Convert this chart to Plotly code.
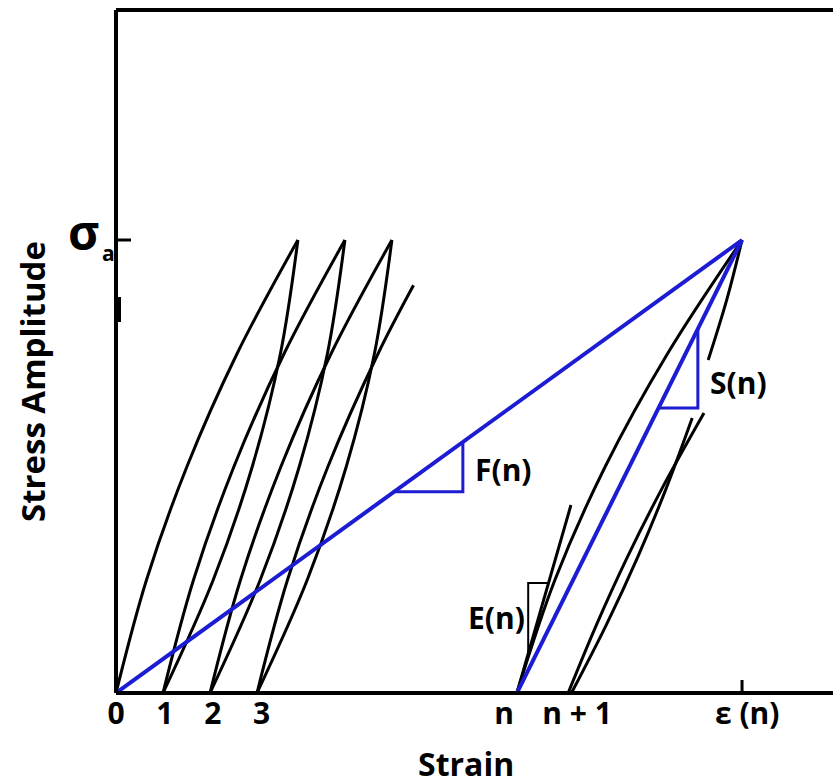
import plotly.graph_objects as go

# ---------------- data (strain in cycle-offset units, stress in units of sigma_a) -------------
# first three hysteresis cycles (loading branches) and the fourth partial one
load_y = [0.0, 0.25, 0.50, 0.75, 1.00]
load0_x = [0.00, 0.65, 1.51, 2.58, 3.87]
load1_x = [1.00, 1.65, 2.51, 3.58, 4.87]
load2_x = [2.00, 2.65, 3.51, 4.58, 5.87]
load3_x = [3.00, 3.65, 4.51, 5.58, 6.33]
load3_y = [0.0, 0.25, 0.50, 0.75, 0.90]

# unloading branches
unload_y = [1.00, 0.75, 0.50, 0.25, 0.0]
unload0_x = [3.87, 3.50, 2.90, 2.07, 1.00]
unload1_x = [4.87, 4.50, 3.90, 3.07, 2.00]
unload2_x = [5.87, 5.50, 4.90, 4.07, 3.00]

# cycle n
loadn_x = [8.53, 9.34, 10.41, 11.74, 13.32]
loadn_y = [0.0, 0.25, 0.50, 0.75, 1.00]
tangE_x = [8.53, 9.68]
tangE_y = [0.0, 0.415]
triE_x = [8.77, 8.77, 9.19]
triE_y = [0.088, 0.243, 0.243]
unloadn_top_x = [13.32, 13.00, 12.60]
unloadn_top_y = [1.00, 0.87, 0.735]
unloadn_bot_x = [12.26, 11.70, 11.10, 10.43, 9.69]
unloadn_bot_y = [0.607, 0.45, 0.30, 0.15, 0.0]
reload_x = [9.62, 10.22, 10.88, 11.61, 12.51]
reload_y = [0.0, 0.15, 0.30, 0.45, 0.618]

# blue secant lines and slope triangles
secF_x = [0.0, 13.32]
secF_y = [0.0, 1.0]
secS_x = [8.53, 13.32]
secS_y = [0.0, 1.0]
triF_x = [5.91, 7.38, 7.38]
triF_y = [0.444, 0.444, 0.554]
triS_x = [11.54, 12.38, 12.38]
triS_y = [0.629, 0.629, 0.804]

eps_n = 13.32
tick_pos = [0.0, 1.04, 2.06, 3.10, 8.26, 9.81, 13.43]
tick_text = ["0", "1", "2", "3", "n", "n + 1", "ε (n)"]

# ---------------- figure ----------------
BLACK = "#000000"
BLUE = "#1c1cd2"
W, H = 833, 784
ML, MR, MT, MB = 116, 0, 10, 91
PW, PH = W - ML - MR, H - MT - MB
PX_PER_X = 47.0
PX_PER_Y = 453.0
x_max = PW / PX_PER_X
y_max = PH / PX_PER_Y

fig = go.Figure()


def add_line(x, y, color=BLACK, width=3, shape="spline"):
    fig.add_trace(go.Scatter(x=x, y=y, mode="lines",
                             line=dict(color=color, width=width, shape=shape),
                             hoverinfo="skip", showlegend=False))


for lx, ly in [(load0_x, load_y), (load1_x, load_y), (load2_x, load_y), (load3_x, load3_y)]:
    add_line(lx, ly)
for ux in [unload0_x, unload1_x, unload2_x]:
    add_line(ux, unload_y)

add_line(loadn_x, loadn_y)
add_line(tangE_x, tangE_y, shape="linear")
add_line(triE_x, triE_y, width=2, shape="linear")
add_line(unloadn_top_x, unloadn_top_y)
add_line(unloadn_bot_x, unloadn_bot_y)
add_line(reload_x, reload_y)

add_line(secF_x, secF_y, color=BLUE, width=4, shape="linear")
add_line(secS_x, secS_y, color=BLUE, width=4, shape="linear")
add_line(triF_x, triF_y, color=BLUE, width=3, shape="linear")
add_line(triS_x, triS_y, color=BLUE, width=3, shape="linear")


def xp(px):
    return (px - ML) / PW


def yp(py):
    return (H - MB - py) / PH


shapes = [
    dict(type="line", xref="paper", yref="paper", x0=0, x1=0, y0=0, y1=1,
         line=dict(color=BLACK, width=4)),
    dict(type="line", xref="paper", yref="paper", x0=0, x1=1, y0=0, y1=0,
         line=dict(color=BLACK, width=4)),
    dict(type="line", xref="paper", yref="paper", x0=0, x1=1, y0=1, y1=1,
         line=dict(color=BLACK, width=4)),
    # sigma_a tick
    dict(type="line", xref="paper", yref="y", x0=0, x1=xp(131), y0=1.0, y1=1.0,
         line=dict(color=BLACK, width=3)),
    # small thick mark on the stress axis
    dict(type="rect", xref="paper", yref="paper", x0=xp(114), x1=xp(121),
         y0=yp(322), y1=yp(297), fillcolor=BLACK, line=dict(width=0)),
    # epsilon(n) tick
    dict(type="line", xref="x", yref="paper", x0=eps_n, x1=eps_n, y0=0, y1=yp(680),
         line=dict(color=BLACK, width=3)),
]

FONT = "Open Sans"
ann = [
    dict(text="<b>Strain</b>", x=xp(466), y=yp(763), font=dict(size=32)),
    dict(text="<b>Stress Amplitude</b>", x=xp(32), y=yp(382), font=dict(size=33), textangle=-90),
    dict(text="<b>σ</b>", x=xp(100), y=yp(231), font=dict(size=48), xanchor="right"),
    dict(text="<b>a</b>", x=xp(101), y=yp(253), font=dict(size=21), xanchor="left"),
    dict(text="<b>F(n)</b>", x=xp(503), y=yp(469), font=dict(size=30)),
    dict(text="<b>S(n)</b>", x=xp(738), y=yp(382), font=dict(size=30)),
    dict(text="<b>E(n)</b>", x=xp(496), y=yp(617), font=dict(size=30)),
]
annotations = []
for a in ann:
    a.setdefault("xanchor", "center")
    a.update(xref="paper", yref="paper", showarrow=False, yanchor="middle", borderpad=0)
    a["font"].update(family=FONT, color=BLACK)
    annotations.append(a)

fig.update_layout(
    width=W, height=H,
    margin=dict(l=ML, r=MR, t=MT, b=MB, pad=0),
    paper_bgcolor="white", plot_bgcolor="white",
    showlegend=False,
    shapes=shapes,
    annotations=annotations,
    xaxis=dict(range=[0, x_max], showgrid=False, zeroline=False, showline=False,
               tickmode="array", tickvals=tick_pos, ticktext=["<b>%s</b>" % t for t in tick_text],
               ticks="", tickfont=dict(family=FONT, size=30, color=BLACK),
               ticklabelstandoff=0),
    yaxis=dict(range=[0, y_max], showgrid=False, zeroline=False, showline=False,
               showticklabels=False, ticks=""),
)

fig.write_html("out.html")
